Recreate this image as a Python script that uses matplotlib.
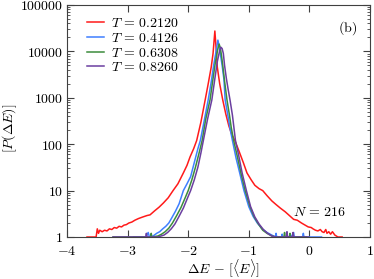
import matplotlib
matplotlib.use('Agg')
import matplotlib.pyplot as plt
from matplotlib.ticker import FixedLocator, LogLocator, FuncFormatter, NullFormatter

plt.rcParams['mathtext.fontset'] = 'cm'

# histogram outlines (x = dE - [<E>], y = counts)
x_t1 = [-3.67, -3.52, -3.50, -3.48, -3.46, -3.42, -3.38, -3.34, -3.30, -3.26, -3.22, -3.18, -3.14,
        -3.10, -3.06, -3.02, -2.98, -2.93, -2.88, -2.82, -2.75, -2.68, -2.63, -2.55, -2.48, -2.41,
        -2.33, -2.25, -2.17, -2.08, -2.02, -1.97, -1.91, -1.86, -1.79, -1.72, -1.67, -1.62, -1.59,
        -1.56, -1.54, -1.52, -1.48, -1.43, -1.38, -1.33, -1.28, -1.23, -1.16, -1.09, -1.03, -0.96,
        -0.90, -0.83, -0.77, -0.70, -0.62, -0.55, -0.48, -0.40, -0.33, -0.26, -0.20, -0.13, -0.07,
        -0.02, 0.03, 0.06, 0.10, 0.14, 0.18, 0.21, 0.24, 0.27, 0.29, 0.32, 0.35, 0.38, 0.42, 0.47, 0.54]
p_t1 = [1, 1, 1.5, 1.2, 1.4, 1.3, 1.4, 1.35, 1.5, 1.45, 1.6, 1.55, 1.7,
        1.65, 1.8, 1.85, 2.0, 2.1, 2.3, 2.5, 2.7, 2.9, 3.0, 3.7, 4.4, 5.4,
        7.0, 10, 14, 24, 35, 53, 80, 120, 300, 900, 2000, 4600, 9000,
        27500, 12000, 4600, 2000, 900, 450, 250, 160, 120, 70, 40, 24, 17,
        13, 11, 10, 7.8, 6.0, 5.0, 4.2, 3.5, 2.9, 2.4, 2.3, 2.0, 1.8,
        1.65, 1.6, 1.5, 1.4, 1.35, 1.45, 1.3, 1.25, 1.45, 1.2, 1.3, 1.15, 1.3, 1.1, 1.0, 1]

x_t2 = [-2.90, -2.80, -2.70, -2.66, -2.64, -2.58, -2.52, -2.47, -2.42, -2.37, -2.32, -2.27, -2.21,
        -2.15, -2.08, -2.02, -1.96, -1.90, -1.84, -1.80, -1.74, -1.67, -1.62, -1.58, -1.54, -1.51,
        -1.49, -1.47, -1.44, -1.41, -1.39, -1.35, -1.31, -1.27, -1.21, -1.15, -1.08, -1.00, -0.93,
        -0.86, -0.78, -0.70, -0.62, -0.56, -0.55, -0.54, -0.46, -0.45, -0.44, -0.30, -0.26, -0.25,
        -0.24, -0.11, -0.10, -0.09, 0.05, 0.20]
p_t2 = [1, 1, 1, 1.25, 1, 1.05, 1.2, 1.3, 1.5, 1.7, 2.0, 2.6, 3.6,
        5.2, 10, 14, 20, 40, 80, 120, 300, 900, 2200, 5000, 10000, 17500,
        13000, 9000, 5000, 2500, 900, 450, 220, 120, 50, 24, 10, 4.5, 2.8,
        2.0, 1.5, 1.25, 1.1, 1, 1.2, 1, 1, 1.15, 1, 1, 1.25, 1,
        1, 1, 1.2, 1, 1, 1]

x_t3 = [-3.24, -3.00, -2.80, -2.62, -2.61, -2.60, -2.50, -2.44, -2.38, -2.32, -2.26, -2.19, -2.12,
        -2.05, -2.00, -1.94, -1.88, -1.82, -1.77, -1.71, -1.64, -1.59, -1.55, -1.51, -1.49, -1.47,
        -1.45, -1.43, -1.40, -1.36, -1.32, -1.29, -1.25, -1.19, -1.13, -1.06, -0.98, -0.91, -0.84,
        -0.77, -0.70, -0.62, -0.55, -0.42, -0.41, -0.40, -0.33, -0.32, -0.31, -0.15, -0.05]
p_t3 = [1, 1, 1, 1, 1.2, 1, 1.05, 1.15, 1.3, 1.55, 2.0, 2.9, 4.3,
        7.0, 10, 17, 32, 65, 120, 350, 900, 2600, 6000, 11500, 14400, 12000,
        8000, 5000, 2300, 900, 430, 230, 120, 55, 24, 10, 4.5, 2.7, 1.9,
        1.4, 1.2, 1.05, 1, 1, 1.25, 1, 1, 1.2, 1, 1, 1]

x_t4 = [-3.24, -3.00, -2.80, -2.70, -2.69, -2.68, -2.50, -2.40, -2.34, -2.28, -2.22, -2.15, -2.08,
        -2.01, -1.96, -1.90, -1.84, -1.79, -1.75, -1.68, -1.61, -1.56, -1.52, -1.48, -1.46, -1.44,
        -1.42, -1.40, -1.37, -1.34, -1.31, -1.27, -1.22, -1.17, -1.11, -1.04, -0.97, -0.90, -0.83,
        -0.76, -0.69, -0.62, -0.55, -0.38, -0.37, -0.36, -0.28, -0.27, -0.26, -0.10, -0.02]
p_t4 = [1, 1, 1, 1, 1.2, 1, 1, 1.1, 1.25, 1.5, 1.9, 2.8, 4.2,
        7.0, 10, 17, 32, 65, 120, 350, 900, 2600, 6000, 10500, 12300, 11500,
        9000, 5000, 2600, 1500, 900, 420, 120, 60, 24, 10, 4.5, 2.7, 1.9,
        1.45, 1.2, 1.05, 1, 1, 1.3, 1, 1, 1.25, 1, 1, 1]

labels = [r'$T\,=\,0.2120$', r'$T\,=\,0.4126$', r'$T\,=\,0.6308$', r'$T\,=\,0.8260$']
colors = ['#ff1a1a', '#3f7fff', '#3c8c3c', '#6b3fa0']
x_ticks = [-4, -3, -2, -1, 0, 1]
y_ticks = [1, 10, 100, 1000, 10000, 100000]

fig = plt.figure(figsize=(3.74, 2.79), dpi=100)
ax = fig.add_axes([67 / 374, 1 - 237 / 279, 303 / 374, 232 / 279])

for xs, ps, c, lab in zip([x_t1, x_t2, x_t3, x_t4], [p_t1, p_t2, p_t3, p_t4], colors, labels):
    ax.plot(xs, ps, color=c, lw=1.1, label=lab)

ax.set_yscale('log')
ax.set_xlim(-4, 1)
ax.set_ylim(1, 100000)

ax.xaxis.set_major_locator(FixedLocator(x_ticks))
ax.xaxis.set_major_formatter(FuncFormatter(lambda v, p: r'$%d$' % v))
ax.yaxis.set_major_locator(FixedLocator(y_ticks))
ax.yaxis.set_major_formatter(FuncFormatter(lambda v, p: r'$%d$' % round(v)))
ax.yaxis.set_minor_locator(LogLocator(base=10, subs=[2, 3, 4, 5, 6, 7, 8, 9]))
ax.yaxis.set_minor_formatter(NullFormatter())

ax.tick_params(which='both', direction='in', top=True, right=True, color='#404040', labelsize=10)
ax.tick_params(axis='x', pad=5)
ax.tick_params(axis='y', pad=3)
ax.tick_params(which='major', length=5, width=0.8)
ax.tick_params(which='minor', length=2.5, width=0.6)
for s in ax.spines.values():
    s.set_color('#404040')
    s.set_linewidth(0.8)

ax.set_xlabel(r'$\Delta E\,-\,[\langle E \rangle]$', fontsize=10, va='center')
ax.set_ylabel(r'$[P(\Delta E)]$', fontsize=10, va='center')
ax.xaxis.set_label_coords(0.515, -0.137)
ax.yaxis.set_label_coords(-0.19, 0.47)

ax.text(0.927, 0.90, r'$(\mathrm{b})$', transform=ax.transAxes, ha='center', va='center', fontsize=10)
ax.text(0.835, 0.108, r'$N\,=\,216$', transform=ax.transAxes, ha='center', va='center', fontsize=10)

ax.legend(loc='upper left', bbox_to_anchor=(0.028, 1.0), frameon=False, fontsize=10,
          handlelength=1.25, handletextpad=0.5, labelspacing=0.05, borderpad=0.3)

plt.savefig('out.png', dpi=100)
